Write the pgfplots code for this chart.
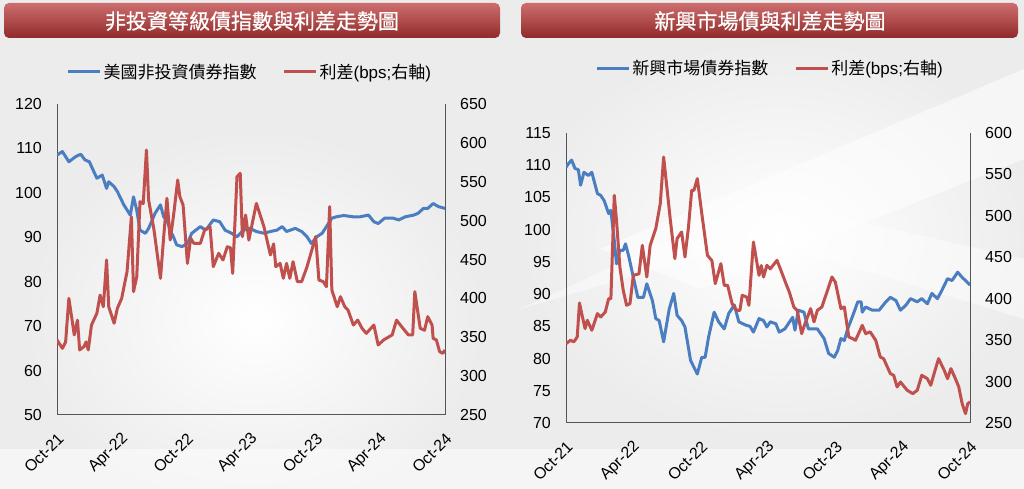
\documentclass[border=0pt]{standalone}
\usepackage{pgfplots}
\pgfplotsset{compat=1.18}
\usepackage{fontspec}
\setmainfont{Liberation Sans}
\newfontfamily\cjk{Noto Sans CJK TC}
\newfontfamily\cjkb[FakeBold=0.6]{Noto Sans CJK TC}
\definecolor{sblue}{RGB}{74,126,193}
\definecolor{sred}{RGB}{192,80,77}
\definecolor{axgray}{RGB}{85,85,85}
\definecolor{bg}{RGB}{236,236,236}
\definecolor{bantop}{RGB}{205,110,110}
\definecolor{banbot}{RGB}{145,42,42}

\pgfplotsset{
  base/.style={
    scale only axis, xmin=0, xmax=36,
    major tick length=0pt,
    axis line style={axgray, line width=1pt},
    tick label style={font=\fontsize{16}{18}\selectfont, inner sep=0pt},
    /pgf/number format/assume math mode=true,
  },
  leftax/.style={
    base,
    axis x line*=bottom, axis y line*=left,
    xtick={0,6,...,36},
    xticklabels={Oct-21,Apr-22,Oct-22,Apr-23,Oct-23,Apr-24,Oct-24},
    x tick label style={anchor=east, xshift=4pt, yshift=-21pt, rotate=45},
    y tick label style={xshift=-15pt},
  },
  rightax/.style={
    base,
    axis y line*=right, axis x line=none,
    y tick label style={xshift=15pt},
    legend columns=2,
    legend image code/.code={\draw[#1] (0pt,0pt) -- (32pt,0pt);},
    legend style={draw=none, fill=none, inner sep=0pt,
      font=\fontsize{17}{20}\selectfont,
      nodes={inner xsep=2pt, inner ysep=1pt},
      /tikz/every even column/.append style={column sep=24pt}},
  },
  blueline/.style={sblue, line width=3pt, line join=round},
  redline/.style={sred, line width=3pt, line join=round},
}

\begin{document}
\begin{tikzpicture}[x=1pt,y=1pt]
\path[use as bounding box] (0,0) rectangle (1024,489);
% background
\fill[bg] (0,0) rectangle (1024,489);
\shade[inner color=white, outer color=bg] (255,170) ellipse (230 and 190);
\shade[inner color=white, outer color=bg] (780,250) ellipse (260 and 200);
\fill[white, opacity=0.55] (600,240) -- (1024,420) -- (1024,330) -- (700,200) -- cycle;
\fill[white, opacity=0.45] (520,180) -- (760,290) -- (1024,230) -- (1024,170) -- (760,250) -- cycle;
\fill[white, opacity=0.5] (0,0) rectangle (1024,40);

% title banners
\shade[rounded corners=5pt, top color=bantop, bottom color=banbot] (4,451) rectangle (500,486);
\node[text=white, font=\cjkb\fontsize{21}{24}\selectfont] at (252,468) {非投資等級債指數與利差走勢圖};
\shade[rounded corners=5pt, top color=bantop, bottom color=banbot] (521,451) rectangle (1018,486);
\node[text=white, font=\cjkb\fontsize{21}{24}\selectfont] at (770,468) {新興市場債與利差走勢圖};

% ---------- left panel ----------
\begin{axis}[leftax, at={(57pt,74pt)}, anchor=south west, width=388pt, height=311pt,
  ymin=50, ymax=120, ytick={50,60,...,120}]
\addplot[blueline] coordinates {
(0,108.5)(0.5,109.3)(1.1,107.0)(1.7,108.1)(2.2,108.7)(2.6,107.4)(3.0,107.0)(3.7,103.3)(4.2,104.0)(4.6,101.0)(4.8,102.5)(5.3,101.4)(5.6,100.3)(6.2,97.3)(6.8,95.0)(7.1,99.1)(7.4,96.1)(7.7,91.6)(8.2,90.9)(8.5,92.0)(9.1,95.4)(9.6,97.3)(9.9,94.6)(10.2,93.9)(10.5,91.6)(10.8,90.1)(11.1,88.3)(11.6,87.9)(12.1,88.6)(12.5,90.9)(13.3,92.4)(13.8,91.6)(14.5,93.9)(15.1,93.5)(15.6,91.6)(16.2,90.9)(16.7,90.1)(17.3,91.6)(17.9,92.0)(18.5,91.3)(19.2,90.9)(19.8,91.3)(20.4,91.6)(20.9,92.4)(21.3,91.3)(22.1,92.0)(22.7,91.3)(23.2,90.1)(23.6,88.6)(24.1,90.1)(24.6,90.9)(25.0,92.4)(25.5,94.3)(25.9,94.6)(26.6,94.9)(27.5,94.6)(28.1,94.6)(28.9,95.0)(29.4,93.5)(29.8,93.1)(30.4,94.3)(31.2,94.3)(31.7,93.9)(32.3,94.6)(33.1,95.0)(33.5,95.4)(34.0,96.5)(34.4,96.5)(34.9,97.6)(35.4,96.9)(36,96.5)
};
\end{axis}
\begin{axis}[rightax, at={(57pt,74pt)}, anchor=south west, width=388pt, height=311pt,
  ymin=250, ymax=650, ytick={250,300,...,650},
  legend style={at={(0.497,1.103)}, anchor=center}]
\addlegendimage{blueline}
\addlegendentry{{\cjk 美國非投資債券指數}}
\addplot[redline] coordinates {
(0,346.5)(0.5,335.7)(0.8,344)(1.1,400)(1.4,372)(1.6,353)(1.9,372)(2.1,333.6)(2.5,338)(2.7,344)(2.9,333.6)(3.2,365.7)(3.7,380.8)(4.0,404.3)(4.3,389.3)(4.6,449.4)(4.8,389.3)(5.3,368)(5.6,387.2)(6.0,400)(6.5,434.4)(6.9,505)(7.1,408.6)(7.4,427.9)(7.7,524.4)(8.0,522)(8.3,590.8)(8.5,526.5)(9.0,488)(9.6,425.8)(9.9,479.4)(10.2,528.7)(10.5,475)(10.8,505)(11.2,552.3)(11.4,530.8)(11.7,520)(12.1,445)(12.4,477.2)(12.7,470.8)(13.3,470.8)(13.7,488)(14.2,492.2)(14.5,440.8)(15.0,458)(15.4,449.4)(15.8,466.5)(16.1,465)(16.3,432.2)(16.7,556.5)(17.0,560.8)(17.2,479.4)(17.5,507.2)(17.8,475)(18.5,522.2)(19.2,492.2)(19.8,455.8)(20.1,470)(20.3,440.8)(20.7,445)(21.0,425.8)(21.3,445)(21.6,425.8)(21.9,447.2)(22.3,421.5)(22.7,421.5)(23.2,440.8)(24.0,479.4)(24.3,423.6)(24.7,421.5)(25.0,415)(25.3,518)(25.5,410.8)(26.0,389.3)(26.3,402.2)(26.7,389.3)(27.0,385)(27.5,365.7)(27.9,372)(28.3,361.5)(28.7,355)(29.4,365.7)(29.8,340)(30.3,346.5)(31.1,353)(31.5,372)(32.1,361.5)(32.6,353)(33.0,353)(33.2,408.6)(33.7,361.5)(34.1,359)(34.4,376.5)(34.8,365.7)(34.9,348.6)(35.2,346.5)(35.5,331.5)(35.8,329.3)(36,333.6)
};
\addlegendentry{{\cjk 利差}(bps;{\cjk 右軸})}
\end{axis}

% ---------- right panel ----------
\begin{axis}[leftax, at={(566pt,66pt)}, anchor=south west, width=404pt, height=290pt,
  ymin=70, ymax=115, ytick={70,75,...,115}]
\addplot[blueline] coordinates {
(0,109.7)(0.2,110.2)(0.5,110.8)(0.8,109.5)(1.1,109.3)(1.3,106.9)(1.6,108.9)(2.0,108.4)(2.3,108.9)(2.8,105.6)(3.1,105.3)(3.4,104.5)(3.8,102.5)(4.0,103)(4.3,98.3)(4.5,94.7)(4.8,96.8)(5.1,96.8)(5.3,97.8)(5.6,95.8)(6.0,92.6)(6.4,89.5)(6.9,89.5)(7.2,91.6)(7.7,89.0)(8.0,86.2)(8.3,85.9)(8.7,82.6)(9.2,87.7)(9.6,90.1)(9.9,86.7)(10.3,85.9)(10.6,84.9)(11.1,79.7)(11.7,77.6)(12.1,80.2)(12.4,80.2)(12.7,83.3)(13.2,87.2)(13.6,85.7)(14.1,84.6)(14.5,87.0)(15.0,88.3)(15.4,85.7)(16.0,85.2)(16.4,85.0)(16.7,84.1)(17.2,86.2)(17.6,85.9)(17.9,84.9)(18.2,85.7)(18.7,85.4)(19.0,84.1)(19.5,84.6)(20.2,86.4)(20.4,84.4)(20.7,87.5)(21.2,87.2)(21.6,84.6)(22.4,84.6)(23.0,83.1)(23.4,80.8)(23.9,80.2)(24.2,81.2)(24.5,83.1)(24.8,82.8)(25.1,84.6)(25.5,86.4)(26.0,88.8)(26.3,88.8)(26.4,87.2)(26.7,88.0)(27.3,87.5)(27.9,87.5)(28.5,88.8)(28.9,89.5)(29.4,89.0)(29.8,87.5)(30.3,88.3)(30.7,89.3)(31.3,88.8)(31.7,89.3)(32.2,88.5)(32.6,90.1)(33.1,89.3)(33.5,90.6)(34.0,92.4)(34.4,92.1)(34.9,93.4)(35.3,92.6)(35.6,92.1)(36,91.4)
};
\end{axis}
\begin{axis}[rightax, at={(566pt,66pt)}, anchor=south west, width=404pt, height=290pt,
  ymin=250, ymax=600, ytick={250,300,...,600},
  legend style={at={(0.505,1.224)}, anchor=center}]
\addlegendimage{blueline}
\addlegendentry{{\cjk 新興市場債券指數}}
\addplot[redline] coordinates {
(0,345.8)(0.4,349.8)(0.7,348)(1.0,353.8)(1.2,394.9)(1.4,382)(1.7,363.9)(1.9,374)(2.3,361.9)(2.8,382)(3.1,378)(3.5,384)(3.8,400)(4.0,400)(4.3,524.8)(4.5,494.6)(4.8,438.3)(5.1,410.1)(5.4,392)(5.7,394)(6.0,428.2)(6.5,430)(6.8,464.4)(7.2,426.2)(7.5,464.4)(8.0,484.6)(8.4,514.7)(8.7,571)(9.0,532.8)(9.3,494.6)(9.7,448.4)(9.9,472.5)(10.3,480.5)(10.6,450.4)(10.9,484.6)(11.2,530.8)(11.4,530.8)(11.7,544.9)(12.1,502.7)(12.6,452.4)(13.0,446)(13.3,418.2)(13.8,442.3)(14.1,416.2)(14.4,416.2)(14.8,394)(15.2,386)(15.5,386)(15.7,404.1)(16.1,402)(16.3,392)(16.7,468.5)(17.2,428.2)(17.4,440)(17.6,426.2)(17.9,440.3)(18.2,436)(18.8,446.3)(19.1,436)(19.6,418.2)(19.9,408)(20.3,390)(20.6,386)(21.0,357.8)(21.3,370)(21.8,388)(22.1,372)(22.4,386)(22.8,390)(23.3,410.1)(23.7,426.2)(24.0,420)(24.5,388)(24.8,390)(25.2,353.8)(25.5,352)(25.8,349.8)(26.4,367.9)(26.7,357.8)(27.1,360)(27.6,349.8)(28.0,329.7)(28.3,327.7)(28.9,309.6)(29.2,307.6)(29.5,293.5)(29.8,299.5)(30.4,289.5)(30.9,285.4)(31.3,289.5)(31.7,307.6)(32.2,303.5)(32.5,295.5)(32.8,309.6)(33.2,327.7)(33.7,313.6)(34.0,303.5)(34.3,315.6)(34.7,303.5)(35.0,293.5)(35.3,273.4)(35.6,261.3)(35.8,273.4)(36,275.4)
};
\addlegendentry{{\cjk 利差}(bps;{\cjk 右軸})}
\end{axis}
\end{tikzpicture}
\end{document}
